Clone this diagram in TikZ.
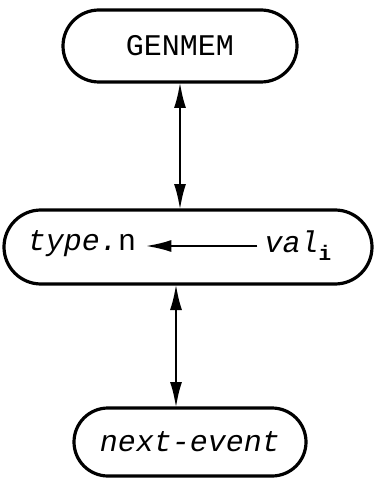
\documentclass[tikz,border=0pt]{standalone}
\usepackage{fontspec}
\setmonofont{Liberation Mono}
\usetikzlibrary{shapes.misc,arrows.meta}

\begin{document}
\begin{tikzpicture}[x=1pt,y=-1pt,
  every node/.style={font=\ttfamily\fontsize{30}{34}\selectfont, outer sep=0pt},
  term/.style={rounded rectangle, draw, line width=3.2pt, inner sep=0pt},
  link/.style={line width=2.6pt, {Latex[length=26pt,width=12pt]}-{Latex[length=26pt,width=12pt]}}]
\useasboundingbox (0,0) rectangle (376,481);

\node[term, minimum width=234pt, minimum height=72pt] (gen) at (180,46) {GENMEM};
\node[term, minimum width=368pt, minimum height=74pt] (mid) at (188,247) {};
\node[term, minimum width=232pt, minimum height=68pt] (nxt) at (190,442) {\itshape next-event};

\node (typ) at (82,244) {\itshape type.\upshape n};
\node (val) at (298,246) {\itshape val\raisebox{-8pt}{\fontsize{21}{21}\selectfont\upshape\bfseries i}};

\draw[line width=2.6pt, shorten >=6pt, shorten <=4pt, -{Latex[length=26pt,width=12pt]}] (val.west) -- (typ.east |- val.west);
\draw[link] (gen.south) -- (gen.south |- mid.north);
\draw[link] ([xshift=-12pt]mid.south) -- ([xshift=-12pt]mid.south |- nxt.north);
\end{tikzpicture}
\end{document}
